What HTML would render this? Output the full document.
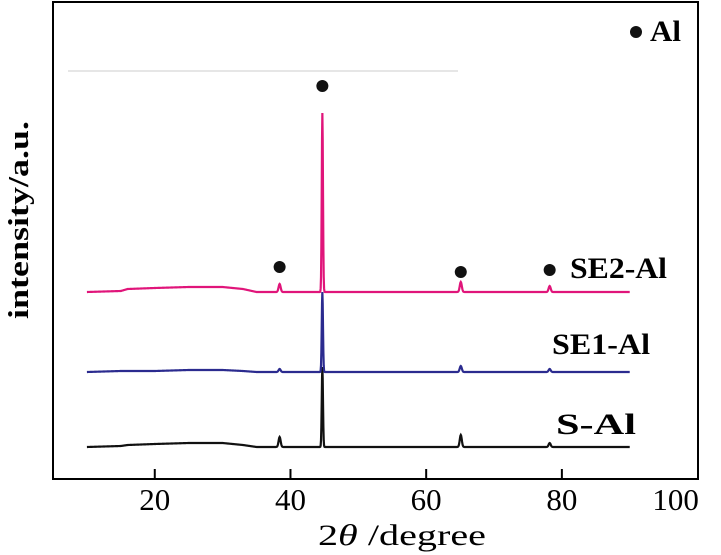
<!DOCTYPE html>
<html><head><meta charset="utf-8"><style>
body{margin:0;background:#fff;}
svg{display:block;font-family:"Liberation Serif",serif;}
</style></head><body>
<svg width="721" height="555">
<g id="plot"></g>
<rect x="53" y="2" width="645" height="477" fill="none" stroke="#000" stroke-width="2"/>
<g id="ticks"></g>
<text x="318" y="545" font-size="30" textLength="168" lengthAdjust="spacingAndGlyphs">2<tspan font-style="italic">θ</tspan> /degree</text>
<text transform="translate(28,220) rotate(-90)" text-anchor="middle" font-size="29" font-weight="bold" textLength="198" lengthAdjust="spacingAndGlyphs">intensity/a.u.</text>
<g>
<circle cx="636" cy="32" r="6" fill="#111"/>
<text x="650" y="41" font-size="30" font-weight="bold" textLength="31" lengthAdjust="spacingAndGlyphs">Al</text>
</g>
<text x="570" y="278" font-size="30" font-weight="bold" textLength="97" lengthAdjust="spacingAndGlyphs">SE2-Al</text>
<text x="552" y="354" font-size="30" font-weight="bold" textLength="98" lengthAdjust="spacingAndGlyphs">SE1-Al</text>
<text x="556" y="434" font-size="30" font-weight="bold" textLength="80" lengthAdjust="spacingAndGlyphs">S-Al</text>
</svg>
<script>
const xTicks=[20,40,60,80,100];
const peakPos=[38.4,44.7,65.1,78.2];
const seriesNames=["S-Al","SE1-Al","SE2-Al"];
const seriesColors=["#111111","#2b2b8f","#e0157a"];
const seriesBase=[447,372,292];
const sPeaks=[10,80,12,4];
const se1Peaks=[3,80,6,3];
const se2Peaks=[8,179,10,6];
const humpAngles=[10,15,16,20,25,30,33,35,90];
const sHump=[0,1,2,3,4,4,2,0,0];
const se1Hump=[0,1,1,1,2,2,1,0,0];
const se2Hump=[0,1,3,4,5,5,3,0,0];
const markerPeaks=[38.4,44.7,65.1,78.2];
const markerLevel=[25,206,20,22];

const X=v=>53+(v-5)*6.785;
const ns="http://www.w3.org/2000/svg";
const plot=document.getElementById('plot');
const ticks=document.getElementById('ticks');
let fl=document.createElementNS(ns,'line');
fl.setAttribute('x1',68);fl.setAttribute('x2',458);fl.setAttribute('y1',71);fl.setAttribute('y2',71);
fl.setAttribute('stroke','#e6e6e6');fl.setAttribute('stroke-width','2');


plot.appendChild(fl);
xTicks.forEach(t=>{
  if(t<100){
  const l=document.createElementNS(ns,'line');
  l.setAttribute('x1',X(t));l.setAttribute('x2',X(t));l.setAttribute('y1',479);l.setAttribute('y2',469);
  l.setAttribute('stroke','#000');l.setAttribute('stroke-width','2');
  
  
  ticks.appendChild(l);}
  const tx=document.createElementNS(ns,'text');
  tx.setAttribute('x',t==100?X(t)-22:X(t));tx.setAttribute('y',510);tx.setAttribute('text-anchor','middle');tx.setAttribute('font-size','31');
  tx.textContent=t;
  
  
  ticks.appendChild(tx);
});
function hump(arr,v){
  for(let i=0;i<humpAngles.length-1;i++){
    if(v>=humpAngles[i]&&v<=humpAngles[i+1]){const f=(v-humpAngles[i])/(humpAngles[i+1]-humpAngles[i]);return arr[i]+(arr[i+1]-arr[i])*f;}
  }return 0;
}
const peaksAll=[sPeaks,se1Peaks,se2Peaks];
const humpsAll=[sHump,se1Hump,se2Hump];
[0,1,2].forEach(k=>{
  let d='';
  for(let v=10;v<=90.001;v+=0.05){
    let y=hump(humpsAll[k],v);
    peakPos.forEach((p,i)=>{const w=i==1?0.09:0.15;y+=peaksAll[k][i]*Math.exp(-((v-p)*(v-p))/(2*w*w));});
    d+=(d?'L':'M')+X(v).toFixed(2)+','+(seriesBase[k]-y).toFixed(2);
  }
  const p=document.createElementNS(ns,'path');
  p.setAttribute('d',d);p.setAttribute('fill','none');p.setAttribute('stroke',seriesColors[k]);p.setAttribute('stroke-width','2.2');
  
  
  plot.appendChild(p);
});
markerPeaks.forEach((p,i)=>{
  const c=document.createElementNS(ns,'circle');
  c.setAttribute('cx',X(p));c.setAttribute('cy',seriesBase[2]-markerLevel[i]);c.setAttribute('r',6);c.setAttribute('fill','#111');
  
  
  plot.appendChild(c);
});
</script>
</body></html>
